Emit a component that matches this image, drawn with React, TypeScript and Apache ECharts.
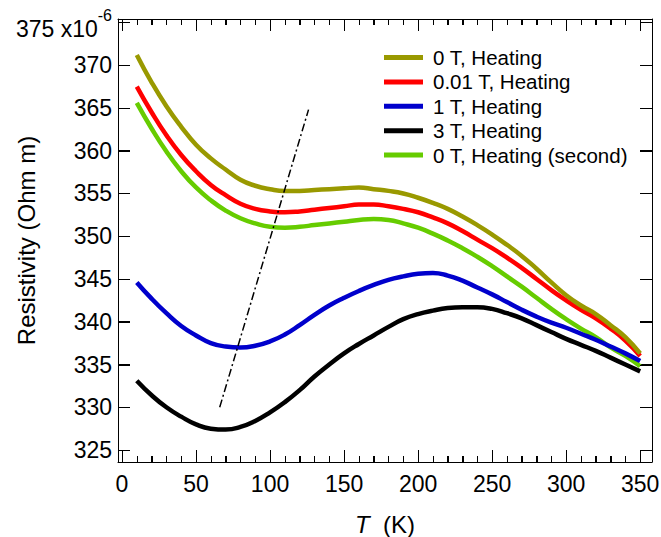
import React, { useEffect, useRef } from 'react';
import * as echarts from 'echarts';

const temps = [10, 20, 30, 40, 50, 60, 70, 80, 90, 100, 110, 120, 130, 140, 150, 160, 170, 180, 190, 200, 210, 220, 230, 240, 250, 260, 270, 280, 290, 300, 310, 320, 330, 340, 350];

const heating0T = [371.2, 368.0, 365.2, 362.8, 360.7, 359.1, 357.8, 356.6, 355.9, 355.5, 355.3, 355.3, 355.4, 355.5, 355.6, 355.7, 355.5, 355.3, 355.0, 354.5, 353.9, 353.2, 352.3, 351.3, 350.2, 349.0, 347.7, 346.2, 344.6, 343.1, 341.9, 340.9, 339.6, 338.2, 336.3];
const heating001T = [367.5, 364.5, 361.8, 359.5, 357.6, 356.0, 354.8, 353.8, 353.2, 352.9, 352.8, 352.9, 353.1, 353.3, 353.5, 353.7, 353.7, 353.5, 353.2, 352.8, 352.2, 351.5, 350.6, 349.6, 348.6, 347.5, 346.3, 345.0, 343.7, 342.5, 341.4, 340.4, 339.2, 337.8, 336.0];
const heating1T = [344.6, 342.7, 341.0, 339.5, 338.4, 337.5, 337.1, 337.0, 337.2, 337.7, 338.5, 339.6, 340.8, 341.9, 342.8, 343.6, 344.3, 344.9, 345.3, 345.6, 345.7, 345.4, 344.8, 344.0, 343.2, 342.3, 341.4, 340.6, 339.9, 339.3, 338.6, 337.9, 337.1, 336.3, 335.4];
const heating3T = [333.1, 331.4, 330.0, 328.9, 328.0, 327.5, 327.4, 327.7, 328.4, 329.4, 330.6, 332.0, 333.6, 335.0, 336.3, 337.4, 338.4, 339.4, 340.3, 340.9, 341.3, 341.6, 341.7, 341.7, 341.5, 341.0, 340.4, 339.6, 338.8, 338.0, 337.3, 336.6, 335.8, 335.0, 334.2];
const heating0TSecond = [365.6, 362.6, 359.9, 357.6, 355.7, 354.2, 353.0, 352.1, 351.5, 351.1, 351.0, 351.1, 351.3, 351.5, 351.7, 351.9, 352.0, 351.9, 351.5, 351.0, 350.3, 349.5, 348.6, 347.6, 346.5, 345.3, 344.1, 342.8, 341.5, 340.3, 339.2, 338.2, 337.0, 336.0, 334.8];

const guideT = [66, 126];
const guideR = [330, 364.8];

const xMajorTicks = [0, 50, 100, 150, 200, 250, 300, 350];
const xMinorTicks = [10, 20, 30, 40, 60, 70, 80, 90, 110, 120, 130, 140, 160, 170, 180, 190, 210, 220, 230, 240, 260, 270, 280, 290, 310, 320, 330, 340];
const yMajorTicks = [325, 330, 335, 340, 345, 350, 355, 360, 365, 370, 375];

const X_MIN = -2.7;
const X_MAX = 358;
const Y_MIN = 323.6;
const Y_MAX = 375.4;

const seriesNames = ['0 T, Heating', '0.01 T, Heating', '1 T, Heating', '3 T, Heating', '0 T, Heating (second)'];
const seriesValues = [heating0T, heating001T, heating1T, heating3T, heating0TSecond];
const seriesColors = ['#999900', '#ff0000', '#0000cc', '#000000', '#66cc00'];

const FONT = 'Liberation Sans, Arial, sans-serif';

const isMult = (v: number, m: number) => Math.abs(v - Math.round(v / m) * m) < 1e-6;
const mkLine = () => ({ show: true, onZero: false, lineStyle: { color: '#000', width: 1 } });
const mkTick = () => ({ show: true, inside: true, length: 12, lineStyle: { color: '#000', width: 1 } });
const mkMinor = () => ({ show: true, splitNumber: 5, length: 6, lineStyle: { color: '#000', width: 1 } });

export default function App() {
  const ref = useRef<HTMLDivElement>(null);
  useEffect(() => {
    if (!ref.current) return;
    const chart = echarts.init(ref.current, null, { renderer: 'svg' });
    const lineSeries = seriesNames.map((name, i) => ({
      name,
      type: 'line',
      xAxisIndex: 0,
      yAxisIndex: 0,
      data: temps.map((t, j) => [t, seriesValues[i][j]]),
      smooth: true,
      showSymbol: false,
      symbol: 'none',
      lineStyle: { color: seriesColors[i], width: 4.5 },
      itemStyle: { color: seriesColors[i] },
      z: 3 + (5 - i),
    }));
    chart.setOption({
      animation: false,
      backgroundColor: '#ffffff',
      textStyle: { fontFamily: FONT },
      grid: { left: 118, right: 9, top: 19, bottom: 75, containLabel: false, outerBoundsMode: 'none' },
      legend: {
        data: seriesNames,
        orient: 'vertical',
        left: 384,
        top: 47,
        padding: 0,
        icon: 'rect',
        itemWidth: 39,
        itemHeight: 5,
        itemGap: 3.4,
        textStyle: { fontSize: 20.5, color: '#000', fontFamily: FONT, lineHeight: 20, padding: [0, 0, 0, 5] },
      },
      xAxis: [
        {
          type: 'value',
          min: X_MIN,
          max: X_MAX,
          splitNumber: 7,
          position: 'bottom',
          axisLine: mkLine(),
          axisTick: mkTick(),
          minorTick: mkMinor(),
          splitLine: { show: false },
          axisLabel: {
            show: true,
            fontSize: 23,
            color: '#000',
            fontFamily: FONT,
            margin: 10,
            formatter: (v: number) => (isMult(v, 50) ? String(Math.round(v)) : ''),
          },
          name: '{i|T}{n|  (K)}',
          nameLocation: 'middle',
          nameGap: 50,
          nameMoveOverlap: false,
          nameTextStyle: {
            color: '#000',
            rich: {
              i: { fontSize: 24, fontStyle: 'italic', fontFamily: FONT, color: '#000' },
              n: { fontSize: 24, fontFamily: FONT, color: '#000' },
            },
          },
        },
        {
          type: 'value',
          min: X_MIN,
          max: X_MAX,
          splitNumber: 7,
          position: 'top',
          axisLine: mkLine(),
          axisTick: mkTick(),
          minorTick: mkMinor(),
          splitLine: { show: false },
          axisLabel: { show: false },
        },
      ],
      yAxis: [
        {
          type: 'value',
          min: Y_MIN,
          max: Y_MAX,
          splitNumber: 10,
          position: 'left',
          axisLine: mkLine(),
          axisTick: mkTick(),
          splitLine: { show: false },
          axisLabel: {
            show: true,
            fontSize: 23,
            color: '#000',
            fontFamily: FONT,
            margin: 6,
            formatter: (v: number) => {
              if (!isMult(v, 5)) return '';
              const r = Math.round(v);
              if (r === 375) return '{a|375 x10}{s|-6}';
              return String(r);
            },
            rich: {
              a: { fontSize: 23, fontFamily: FONT, color: '#000', padding: [14, 0, 0, 0] },
              s: { fontSize: 16, fontFamily: FONT, color: '#000', verticalAlign: 'top', padding: [4, 0, 0, 0] },
            },
          },
          name: 'Resistivity (Ohm m)',
          nameLocation: 'middle',
          nameRotate: 90,
          nameGap: 80,
          nameMoveOverlap: false,
          nameTextStyle: { fontSize: 24, color: '#000', fontFamily: FONT },
        },
        {
          type: 'value',
          min: Y_MIN,
          max: Y_MAX,
          splitNumber: 10,
          position: 'right',
          axisLine: mkLine(),
          axisTick: mkTick(),
          splitLine: { show: false },
          axisLabel: { show: false },
        },
      ],
      series: [
        ...lineSeries,
        {
          name: 'guide',
          type: 'line',
          xAxisIndex: 0,
          yAxisIndex: 0,
          data: guideT.map((t, j) => [t, guideR[j]]),
          showSymbol: false,
          symbol: 'none',
          lineStyle: { color: '#000', width: 1.5, type: [8, 3, 2, 3] },
          z: 10,
        },
      ],
    });

    // Frame ticks, positioned through the chart's own axis scales.
    const px = (v: number) => chart.convertToPixel({ xAxisIndex: 0 }, v) as number;
    const py = (v: number) => chart.convertToPixel({ yAxisIndex: 0 }, v) as number;
    const xL = px(X_MIN);
    const xR = px(X_MAX);
    const yB = py(Y_MIN);
    const yT = py(Y_MAX);
    const tickStyle = { stroke: '#000', lineWidth: 1 };
    const g: any[] = [];
    const addLine = (x1: number, y1: number, x2: number, y2: number) =>
      g.push({ type: 'line', silent: true, z: 20, shape: { x1, y1, x2, y2 }, style: tickStyle });
    xMajorTicks.forEach((t) => {
      const x = Math.round(px(t)) + 0.5;
      addLine(x, yB, x, yB - 12);
      addLine(x, yT, x, yT + 12);
    });
    xMinorTicks.forEach((t) => {
      const x = Math.round(px(t)) + 0.5;
      addLine(x, yB, x, yB - 6);
      addLine(x, yT, x, yT + 6);
    });
    yMajorTicks.forEach((r) => {
      const y = Math.round(py(r)) + 0.5;
      addLine(xL, y, xL + 12, y);
      addLine(xR, y, xR - 12, y);
    });
    chart.setOption({ graphic: g });

    return () => chart.dispose();
  }, []);
  return <div ref={ref} style={{ position: 'fixed', left: 0, top: 0, width: 661, height: 537 }} />;
}
